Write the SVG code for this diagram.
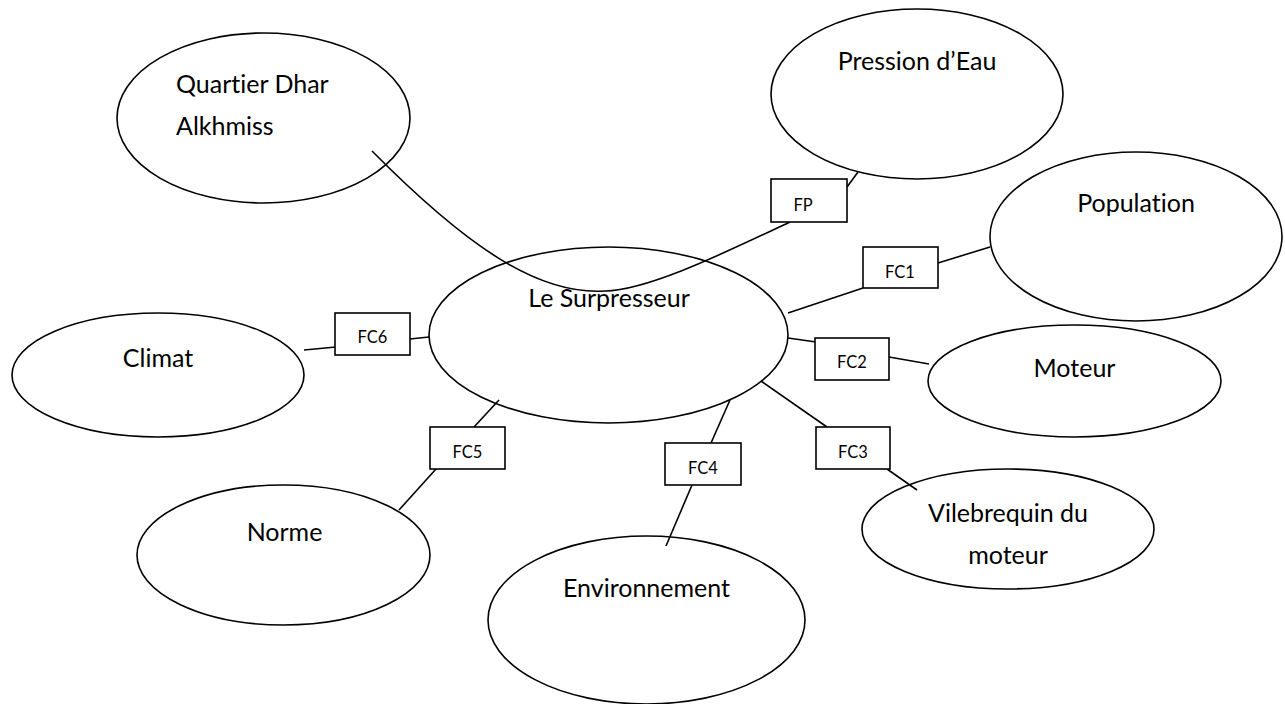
<svg xmlns="http://www.w3.org/2000/svg" width="1285" height="704" viewBox="0 0 1285 704">
<style>
.n{fill:#fff;stroke:#000;stroke-width:1.6}
.b{fill:#fff;stroke:#000;stroke-width:1.6}
.c{fill:none;stroke:#000;stroke-width:1.6}
.t{font-family:Lato,"Open Sans",sans-serif;font-size:25px;fill:#000;font-variant-ligatures:none}
.s{font-family:Lato,"Open Sans",sans-serif;font-size:16.5px;fill:#000;text-anchor:middle}
.m{text-anchor:middle}
</style>
<rect width="1285" height="704" fill="#fff"/>
<g id="n-quartier"><ellipse class="n" cx="263.5" cy="118" rx="146.5" ry="85"/><text class="t" x="176" y="93">Quartier Dhar</text><text class="t" x="176" y="135">Alkhmiss</text></g>
<g id="n-pression"><ellipse class="n" cx="917" cy="94" rx="146" ry="85"/><text class="t m" x="917" y="70">Pression d’Eau</text></g>
<g id="n-population"><ellipse class="n" cx="1136" cy="236.5" rx="146" ry="84.5"/><text class="t m" x="1136" y="212">Population</text></g>
<g id="n-moteur"><ellipse class="n" cx="1074.5" cy="381" rx="146.5" ry="56"/><text class="t m" x="1074.5" y="377">Moteur</text></g>
<g id="n-vilebrequin"><ellipse class="n" cx="1008" cy="529" rx="146" ry="60"/><text class="t m" x="1008" y="522">Vilebrequin du</text><text class="t m" x="1008" y="564">moteur</text></g>
<g id="n-environnement"><ellipse class="n" cx="646.5" cy="620" rx="158.5" ry="84"/><text class="t m" x="646.5" y="597">Environnement</text></g>
<g id="n-norme"><ellipse class="n" cx="283.5" cy="555" rx="146.5" ry="70"/><text class="t m" x="284.5" y="541">Norme</text></g>
<g id="n-climat"><ellipse class="n" cx="158" cy="375" rx="146" ry="62"/><text class="t m" x="158" y="367">Climat</text></g>
<g id="n-surpresseur"><ellipse class="n" cx="608.5" cy="335" rx="179.5" ry="88"/><text class="t m" x="609" y="307">Le Surpresseur</text></g>
<g id="connectors">
<path class="c" d="M372,151 C470,250 540,295 605,291 C650,290 730,250 790,222"/>
<line class="c" x1="847" y1="187" x2="858" y2="172"/>
<line class="c" x1="788" y1="313" x2="863" y2="288"/>
<line class="c" x1="938" y1="263" x2="990" y2="247"/>
<line class="c" x1="788" y1="338" x2="816" y2="342"/>
<line class="c" x1="889" y1="357" x2="929" y2="364"/>
<line class="c" x1="761" y1="381" x2="827" y2="427"/>
<line class="c" x1="887" y1="469" x2="917" y2="490"/>
<line class="c" x1="730" y1="400" x2="711" y2="443"/>
<line class="c" x1="692" y1="485" x2="666" y2="546"/>
<line class="c" x1="499" y1="400" x2="474" y2="427"/>
<line class="c" x1="436" y1="469" x2="399" y2="510"/>
<line class="c" x1="304" y1="350" x2="336" y2="347"/>
<line class="c" x1="410" y1="339" x2="429" y2="337"/>
</g>
<g id="l-fp"><rect class="b" x="771" y="179" width="76" height="43"/><text class="s" x="803" y="211">FP</text></g>
<g id="l-fc1"><rect class="b" x="863" y="247" width="75" height="41"/><text class="s" x="900" y="278">FC1</text></g>
<g id="l-fc2"><rect class="b" x="815" y="338" width="74" height="42"/><text class="s" x="852" y="368">FC2</text></g>
<g id="l-fc3"><rect class="b" x="816" y="427" width="74" height="42"/><text class="s" x="853" y="458">FC3</text></g>
<g id="l-fc4"><rect class="b" x="665" y="443" width="76" height="42"/><text class="s" x="703" y="474">FC4</text></g>
<g id="l-fc5"><rect class="b" x="430" y="427" width="75" height="42"/><text class="s" x="467.5" y="458">FC5</text></g>
<g id="l-fc6"><rect class="b" x="335" y="313" width="75" height="42"/><text class="s" x="372.5" y="343">FC6</text></g>
</svg>
